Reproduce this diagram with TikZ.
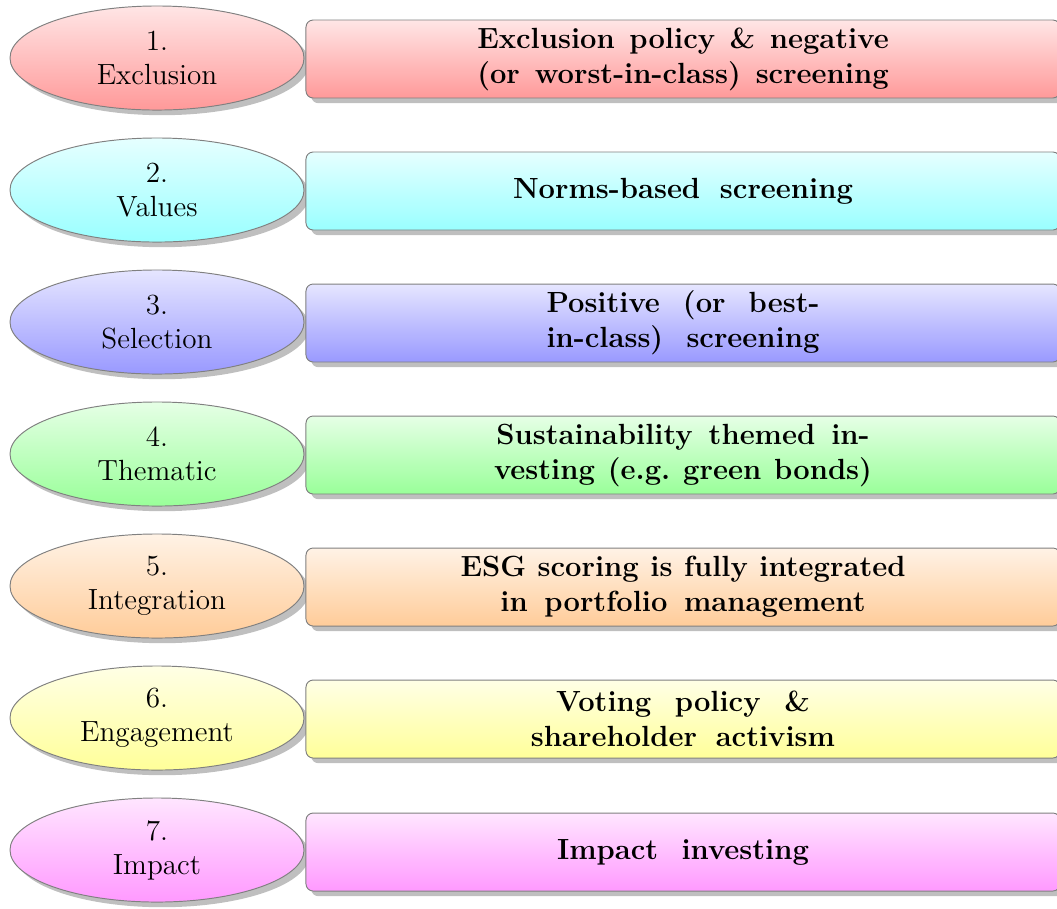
\documentclass[tikz,border=0pt]{standalone}
\usetikzlibrary{shapes.geometric,shadows}
\newcommand{\stretchline}[2]{\makebox[#1pt][s]{#2}}
\begin{document}
\begin{tikzpicture}[x=0.418pt,y=-0.418pt,
  ell/.style={ellipse, draw=black!50, line width=0.4pt, minimum width=122.9pt,
    minimum height=43.5pt, inner sep=0pt, align=center,
    font=\fontsize{12.2}{14.2}\selectfont, drop shadow, top color=#1!10, bottom color=#1!40},
  box/.style={rectangle, rounded corners=3pt, draw=black!50, line width=0.4pt,
    minimum width=315.2pt, minimum height=32.6pt, inner sep=0pt, align=center,
    font=\fontsize{12.2}{14.6}\selectfont\bfseries, drop shadow, top color=#1!10, bottom color=#1!40}]
\clip (0,0) rectangle (1057,908);
\node[ell=red]     (e1) at (157,58)  {1.\\Exclusion};
\node[ell=cyan]    (e2) at (157,190) {2.\\Values};
\node[ell=blue]    (e3) at (157,322) {3.\\Selection};
\node[ell=green]   (e4) at (157,454) {4.\\Thematic};
\node[ell=orange]  (e5) at (157,586) {5.\\Integration};
\node[ell=yellow]  (e6) at (157,718) {6.\\Engagement};
\node[ell=magenta] (e7) at (157,850) {7.\\Impact};
\node[box=red]     (b1) at (683,59)  {\stretchline{172}{Exclusion policy \& negative}\\\stretchline{172}{(or worst-in-class) screening}};
\node[box=cyan]    (b2) at (683,191) {\stretchline{142.1}{Norms-based screening}};
\node[box=blue]    (b3) at (683,323) {\stretchline{114.1}{Positive (or best-}\\\stretchline{114.1}{in-class) screening}};
\node[box=green]   (b4) at (683,455) {\stretchline{156}{Sustainability themed in-}\\\stretchline{158}{vesting (e.g.\ green bonds)}};
\node[box=orange]  (b5) at (683,587) {\stretchline{186}{ESG scoring is fully integrated}\\\stretchline{152.6}{in portfolio management}};
\node[box=yellow]  (b6) at (683,719) {\stretchline{106}{Voting policy \&}\\\stretchline{127.1}{shareholder activism}};
\node[box=magenta] (b7) at (683,852) {\stretchline{105.3}{Impact investing}};
\end{tikzpicture}
\end{document}
